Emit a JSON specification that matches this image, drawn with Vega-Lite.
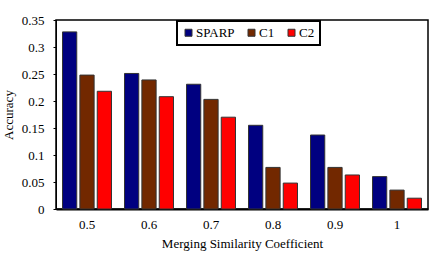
{
  "$schema": "https://vega.github.io/schema/vega-lite/v6.json",
  "width": 372,
  "height": 189,
  "autosize": "none",
  "padding": {"left": 56, "top": 20, "right": 8, "bottom": 48},
  "background": "white",
  "data": {
    "values": [
      {"coef": "0.5", "method": "SPARP", "acc": 0.328},
      {"coef": "0.5", "method": "C1", "acc": 0.248},
      {"coef": "0.5", "method": "C2", "acc": 0.218},
      {"coef": "0.6", "method": "SPARP", "acc": 0.251},
      {"coef": "0.6", "method": "C1", "acc": 0.239},
      {"coef": "0.6", "method": "C2", "acc": 0.208},
      {"coef": "0.7", "method": "SPARP", "acc": 0.231},
      {"coef": "0.7", "method": "C1", "acc": 0.203},
      {"coef": "0.7", "method": "C2", "acc": 0.170},
      {"coef": "0.8", "method": "SPARP", "acc": 0.155},
      {"coef": "0.8", "method": "C1", "acc": 0.077},
      {"coef": "0.8", "method": "C2", "acc": 0.048},
      {"coef": "0.9", "method": "SPARP", "acc": 0.137},
      {"coef": "0.9", "method": "C1", "acc": 0.077},
      {"coef": "0.9", "method": "C2", "acc": 0.063},
      {"coef": "1", "method": "SPARP", "acc": 0.060},
      {"coef": "1", "method": "C1", "acc": 0.035},
      {"coef": "1", "method": "C2", "acc": 0.020}
    ]
  },
  "mark": {"type": "bar", "stroke": "#333333", "strokeWidth": 1},
  "encoding": {
    "x": {
      "field": "coef", "type": "nominal", "sort": null,
      "scale": {"paddingInner": 0.21, "paddingOuter": 0.105},
      "axis": {"title": "Merging Similarity Coefficient", "labelAngle": 0, "ticks": false, "tickSize": 0, "labelPadding": 9, "titlePadding": 6, "domainWidth": 2}
    },
    "xOffset": {
      "field": "method", "type": "nominal", "sort": ["SPARP", "C1", "C2"],
      "scale": {"paddingInner": 0.18}
    },
    "y": {
      "field": "acc", "type": "quantitative",
      "scale": {"domain": [0, 0.35], "nice": false},
      "axis": {"title": "Accuracy", "values": [0, 0.05, 0.1, 0.15, 0.2, 0.25, 0.3, 0.35], "format": "~g", "grid": false, "tickSize": 3, "labelPadding": 9, "titlePadding": 6}
    },
    "color": {
      "field": "method", "type": "nominal", "sort": ["SPARP", "C1", "C2"],
      "scale": {"domain": ["SPARP", "C1", "C2"], "range": ["#000080", "#722800", "#FF0000"]},
      "legend": {
        "title": null, "orient": "none", "direction": "horizontal",
        "legendX": 121, "legendY": 1,
        "symbolType": "square", "symbolSize": 49, "symbolStrokeColor": "#333333", "symbolStrokeWidth": 1,
        "labelFontSize": 13, "labelColor": "black",
        "labelOffset": 1, "columnPadding": 10, "padding": 5,
        "strokeColor": "black"
      }
    }
  },
  "config": {
    "font": "Times New Roman, Liberation Serif, DejaVu Serif, serif",
    "view": {"stroke": "black", "strokeWidth": 1.5},
    "axis": {
      "labelFont": "Times New Roman, Liberation Serif, DejaVu Serif, serif", "labelFontSize": 13, "labelColor": "black",
      "titleFont": "Times New Roman, Liberation Serif, DejaVu Serif, serif", "titleFontSize": 13, "titleFontWeight": "normal", "titleColor": "black",
      "domainColor": "black", "tickColor": "black"
    },
    "legend": {"strokeWidth": 2, "symbolOpacity": 1, "labelFont": "Times New Roman, Liberation Serif, DejaVu Serif, serif"}
  }
}
